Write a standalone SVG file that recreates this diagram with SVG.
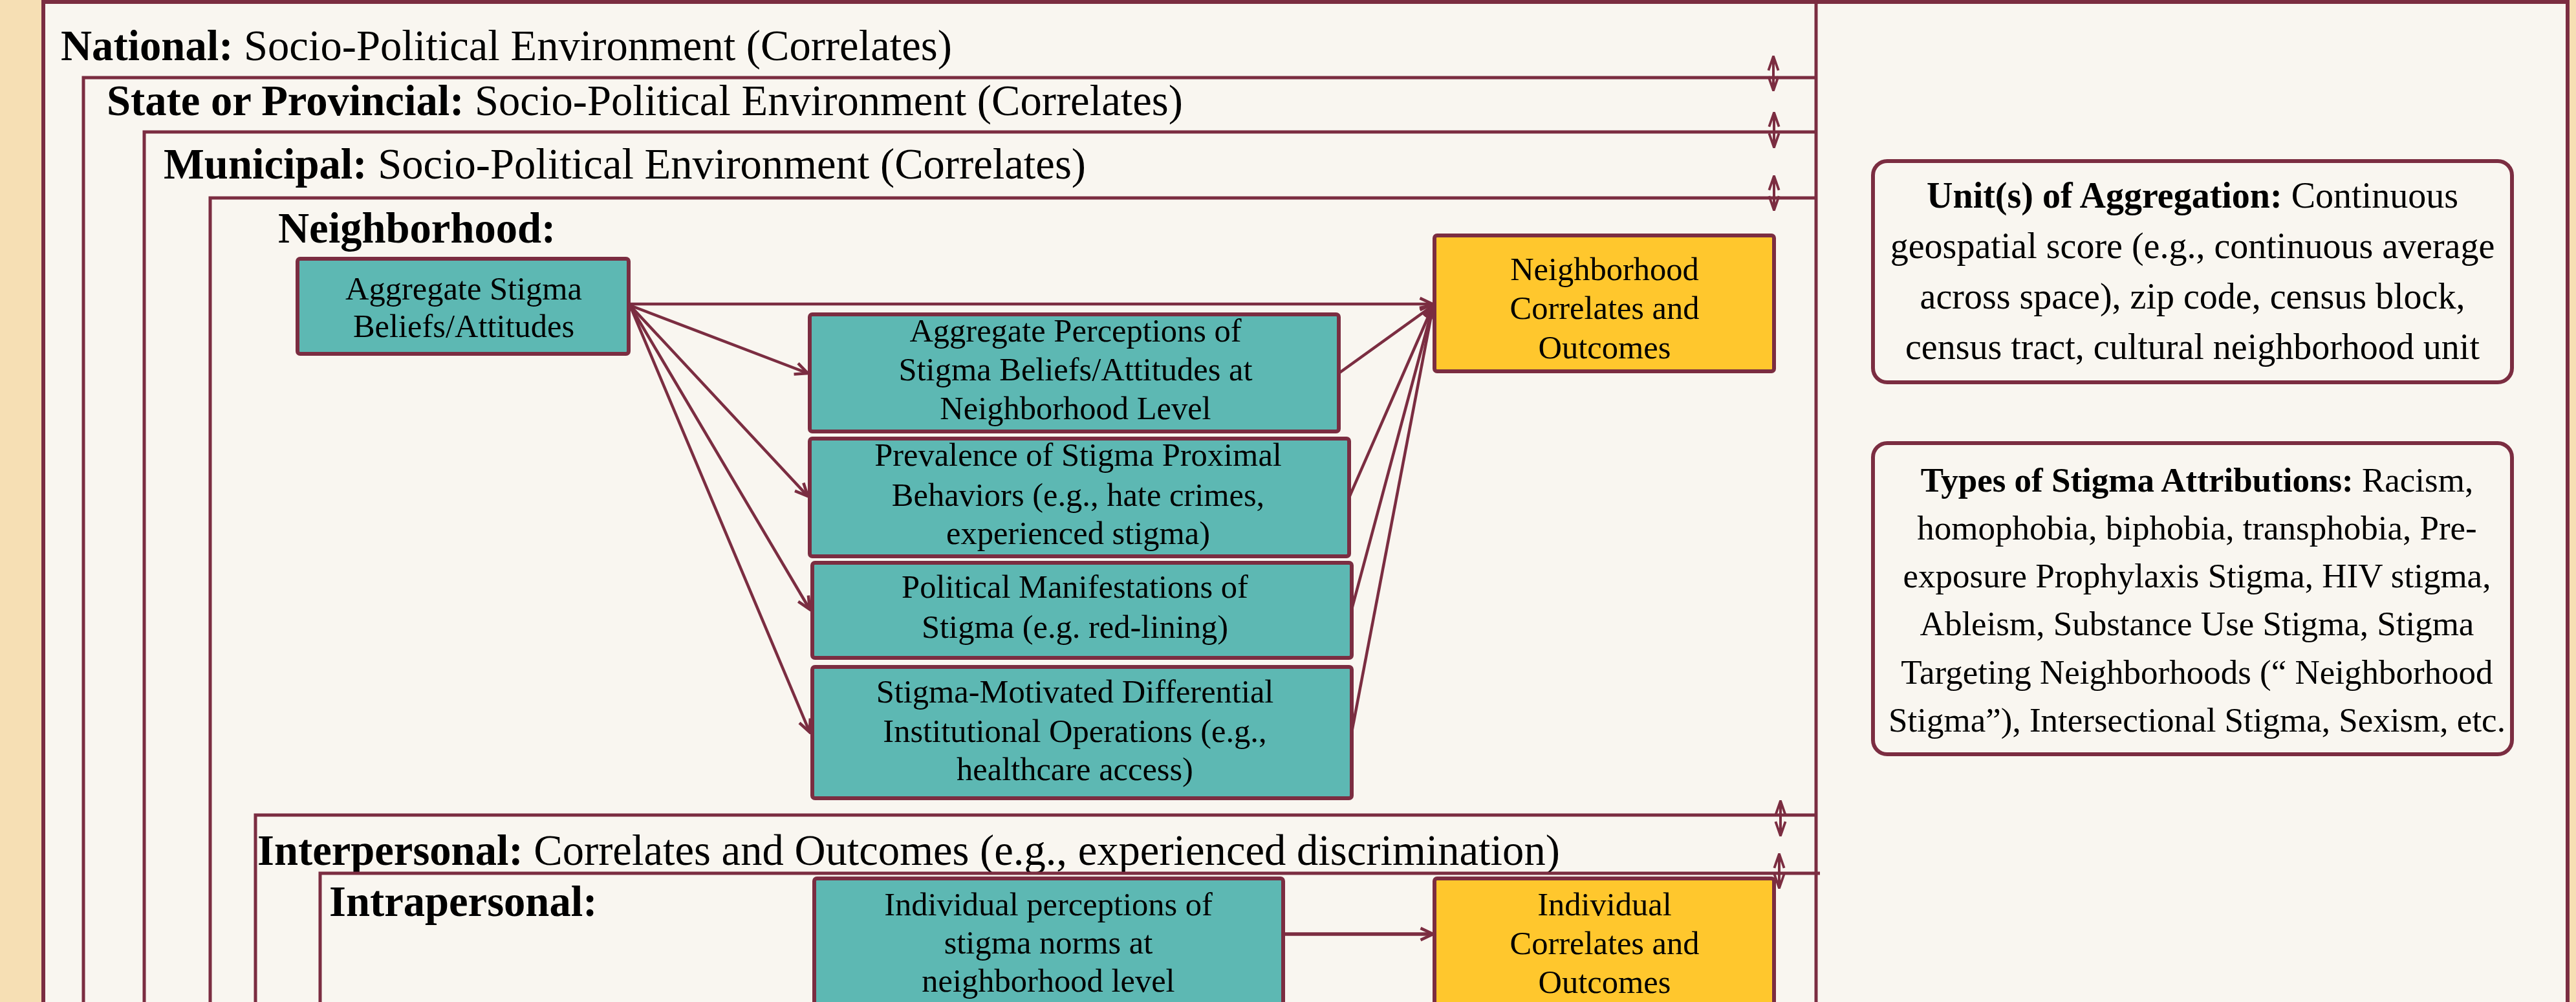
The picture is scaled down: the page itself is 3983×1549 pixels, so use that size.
<svg xmlns="http://www.w3.org/2000/svg" width="3983" height="1549" viewBox="0 0 3983 1549">
<style>
.frame{fill:none;stroke:#7B2D41;stroke-width:5}
.title{font-family:"Liberation Serif","Times New Roman",serif;font-size:66.6px;fill:#000}
.b{font-weight:bold}
.teal{fill:#5DB8B3;stroke:#7B2D41;stroke-width:6}
.gold{fill:#FFC72D;stroke:#7B2D41;stroke-width:6}
.note{fill:#F9F6F0;stroke:#7B2D41;stroke-width:6}
.nt{font-family:"Liberation Serif","Times New Roman",serif;font-size:50.5px;fill:#000;text-anchor:middle}
.rt{font-family:"Liberation Serif","Times New Roman",serif;fill:#000;text-anchor:middle}
.con{fill:none;stroke:#7B2D41;stroke-width:4.5}
.dbl{fill:none;stroke:#7B2D41;stroke-width:4;marker-start:url(#dh);marker-end:url(#dh)}
</style>
<defs>
<marker id="ah" viewBox="0 0 20 20" refX="18" refY="10" markerWidth="26" markerHeight="26" markerUnits="userSpaceOnUse" orient="auto">
<path d="M3,3 L18,10 L3,17" fill="none" stroke="#7B2D41" stroke-width="3.5"/>
</marker>
<marker id="dh" viewBox="0 0 22 18" refX="21" refY="9" markerWidth="24" markerHeight="20" markerUnits="userSpaceOnUse" orient="auto-start-reverse">
<path d="M1,2 L21,9 L1,16" fill="none" stroke="#7B2D41" stroke-width="3.5"/>
</marker>
</defs>
<rect x="0" y="0" width="3983" height="1549" fill="#F6DFB4"/>
<g id="frame-national">
<rect x="67" y="3" width="3903" height="1600" fill="#F9F6F0" stroke="#7B2D41" stroke-width="6"/>
<path class="frame" d="M2808,0 L2808,1549"/>
<text class="title" x="94" y="93"><tspan class="b">National:</tspan> Socio-Political Environment (Correlates)</text>
</g>
<g id="frame-state">
<path class="frame" d="M129,1549 L129,120 L2808,120"/>
<text class="title" x="165" y="178"><tspan class="b">State or Provincial:</tspan> Socio-Political Environment (Correlates)</text>
</g>
<g id="frame-municipal">
<path class="frame" d="M223,1549 L223,204 L2808,204"/>
<text class="title" x="253" y="276"><tspan class="b">Municipal:</tspan> Socio-Political Environment (Correlates)</text>
</g>
<g id="frame-neighborhood">
<path class="frame" d="M325,1549 L325,306 L2808,306"/>
<text class="title b" x="430" y="375">Neighborhood:</text>
</g>
<g id="frame-interpersonal">
<path class="frame" d="M395,1549 L395,1260 L2808,1260"/>
<text class="title" x="398" y="1337"><tspan class="b">Interpersonal:</tspan> Correlates and Outcomes (e.g., experienced discrimination)</text>
</g>
<g id="frame-intrapersonal">
<path class="frame" d="M495,1549 L495,1350 L2814,1350"/>
<text class="title b" x="509" y="1416">Intrapersonal:</text>
</g>
<g id="connectors">
<path class="con" marker-end="url(#ah)" d="M974,470 L2215,470"/>
<path class="con" marker-end="url(#ah)" d="M974,472 L1249,577"/>
<path class="con" marker-end="url(#ah)" d="M974,472 L1249,767"/>
<path class="con" marker-end="url(#ah)" d="M974,472 L1252,942"/>
<path class="con" marker-end="url(#ah)" d="M974,472 L1252,1132"/>
<path class="con" marker-end="url(#ah)" d="M2070,577 L2216,472"/>
<path class="con" marker-end="url(#ah)" d="M2086,769 L2216,472"/>
<path class="con" marker-end="url(#ah)" d="M2090,942 L2216,472"/>
<path class="con" marker-end="url(#ah)" d="M2090,1132 L2216,472"/>
<path class="con" style="stroke-width:5.5" marker-end="url(#ah)" d="M1984,1444 L2216,1444"/>
<path class="dbl" d="M2742,87 L2742,140"/>
<path class="dbl" d="M2743,174 L2743,228"/>
<path class="dbl" d="M2743,272 L2743,325"/>
<path class="dbl" d="M2753,1238 L2753,1292"/>
<path class="dbl" d="M2751,1320 L2751,1373"/>
</g>
<g id="n-agg">
<rect class="teal" x="460" y="400" width="512" height="147" rx="4"/>
<text class="nt" x="717" y="463">Aggregate Stigma</text>
<text class="nt" x="717" y="521">Beliefs/Attitudes</text>
</g>
<g id="n-ap">
<rect class="teal" x="1252" y="486" width="818" height="181" rx="4"/>
<text class="nt" x="1663" y="528">Aggregate Perceptions of</text>
<text class="nt" x="1663" y="588">Stigma Beliefs/Attitudes at</text>
<text class="nt" x="1663" y="648">Neighborhood Level</text>
</g>
<g id="n-prev">
<rect class="teal" x="1252" y="678" width="834" height="182" rx="4"/>
<text class="nt" x="1667" y="720">Prevalence of Stigma Proximal</text>
<text class="nt" x="1667" y="782">Behaviors (e.g., hate crimes,</text>
<text class="nt" x="1667" y="841">experienced stigma)</text>
</g>
<g id="n-pol">
<rect class="teal" x="1256" y="870" width="834" height="147" rx="4"/>
<text class="nt" x="1662" y="924">Political Manifestations of</text>
<text class="nt" x="1662" y="986">Stigma (e.g. red-lining)</text>
</g>
<g id="n-sm">
<rect class="teal" x="1256" y="1031" width="834" height="203" rx="4"/>
<text class="nt" x="1662" y="1086">Stigma-Motivated Differential</text>
<text class="nt" x="1662" y="1147">Institutional Operations (e.g.,</text>
<text class="nt" x="1662" y="1206">healthcare access)</text>
</g>
<g id="n-nc">
<rect class="gold" x="2218" y="364" width="525" height="210" rx="4"/>
<text class="nt" x="2481" y="433">Neighborhood</text>
<text class="nt" x="2481" y="493">Correlates and</text>
<text class="nt" x="2481" y="554">Outcomes</text>
</g>
<g id="n-ip">
<rect class="teal" x="1259" y="1358" width="725" height="260" rx="4"/>
<text class="nt" x="1621" y="1415">Individual perceptions of</text>
<text class="nt" x="1621" y="1474">stigma norms at</text>
<text class="nt" x="1621" y="1533">neighborhood level</text>
</g>
<g id="n-ic">
<rect class="gold" x="2218" y="1358" width="525" height="260" rx="4"/>
<text class="nt" x="2481" y="1415">Individual</text>
<text class="nt" x="2481" y="1475">Correlates and</text>
<text class="nt" x="2481" y="1535">Outcomes</text>
</g>
<g id="n-unit">
<rect class="note" x="2896" y="249" width="988" height="342" rx="22"/>
<text class="rt" font-size="56" x="3390" y="321"><tspan class="b">Unit(s) of Aggregation:</tspan> Continuous</text>
<text class="rt" font-size="56" x="3390" y="399">geospatial score (e.g., continuous average</text>
<text class="rt" font-size="56" x="3390" y="477">across space), zip code, census block,</text>
<text class="rt" font-size="56" x="3390" y="555">census tract, cultural neighborhood unit</text>
</g>
<g id="n-types">
<rect class="note" x="2896" y="685" width="988" height="481" rx="22"/>
<text class="rt" font-size="53" x="3397" y="760"><tspan class="b">Types of Stigma Attributions:</tspan> Racism,</text>
<text class="rt" font-size="53" x="3397" y="834">homophobia, biphobia, transphobia, Pre-</text>
<text class="rt" font-size="53" x="3397" y="908">exposure Prophylaxis Stigma, HIV stigma,</text>
<text class="rt" font-size="53" x="3397" y="982">Ableism, Substance Use Stigma, Stigma</text>
<text class="rt" font-size="53" x="3397" y="1057">Targeting Neighborhoods (“ Neighborhood</text>
<text class="rt" font-size="53" x="3397" y="1131">Stigma”), Intersectional Stigma, Sexism, etc.</text>
</g>
</svg>
